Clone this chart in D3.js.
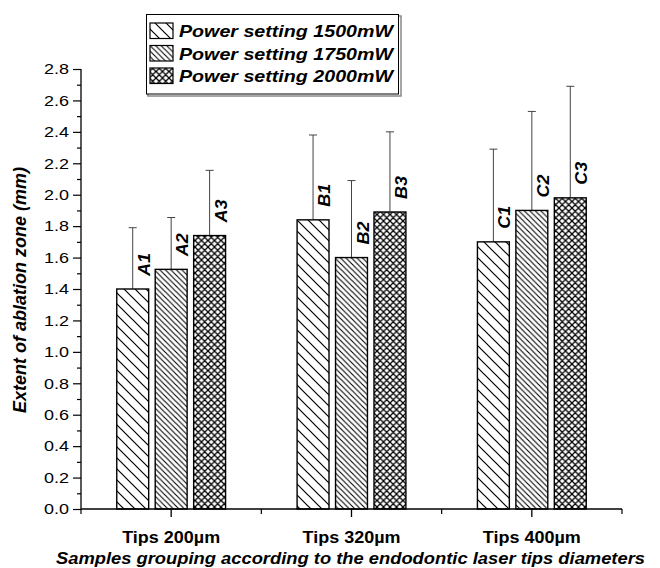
<!DOCTYPE html>
<html>
<head>
<meta charset="utf-8">
<script src="https://cdn.jsdelivr.net/npm/d3@7"></script>
<style>
  body { margin: 0; background: #fff; }
  svg { display: block; font-family: Arial, "Liberation Sans", sans-serif; }
</style>
</head>
<body>
<svg id="chart" width="660" height="568"></svg>
<script>
// ---- data ----
const categories = ["Tips 200µm", "Tips 320µm", "Tips 400µm"];
const seriesNames = ["Power setting 1500mW", "Power setting 1750mW", "Power setting 2000mW"];
const means1500 = [1.40, 1.84, 1.70];
const sd1500    = [0.39, 0.54, 0.59];
const means1750 = [1.525, 1.60, 1.90];
const sd1750    = [0.33, 0.49, 0.63];
const means2000 = [1.74, 1.89, 1.98];
const sd2000    = [0.415, 0.51, 0.71];
const labels1500 = ["A1", "B1", "C1"];
const labels1750 = ["A2", "B2", "C2"];
const labels2000 = ["A3", "B3", "C3"];
const yMajorTicks = [0.0, 0.2, 0.4, 0.6, 0.8, 1.0, 1.2, 1.4, 1.6, 1.8, 2.0, 2.2, 2.4, 2.6, 2.8];
const yMinorTicks = [0.1, 0.3, 0.5, 0.7, 0.9, 1.1, 1.3, 1.5, 1.7, 1.9, 2.1, 2.3, 2.5, 2.7];
const yTitle = "Extent of ablation zone (mm)";
const xTitle = "Samples grouping according to the endodontic laser tips diameters";

const seriesData = [
  { name: seriesNames[0], means: means1500, sds: sd1500, labels: labels1500, pattern: "p1500" },
  { name: seriesNames[1], means: means1750, sds: sd1750, labels: labels1750, pattern: "p1750" },
  { name: seriesNames[2], means: means2000, sds: sd2000, labels: labels2000, pattern: "p2000" }
];

const svg = d3.select("#chart");

// ---- patterns ----
const defs = svg.append("defs");
function diagPattern(id, s, sw) {
  const p = defs.append("pattern").attr("id", id)
    .attr("patternUnits", "userSpaceOnUse").attr("width", s).attr("height", s);
  p.append("rect").attr("width", s).attr("height", s).attr("fill", "#fff");
  p.append("path")
    .attr("d", `M0,0 L${s},${s} M${-s/2},${s/2} L${s/2},${s*1.5} M${s/2},${-s/2} L${s*1.5},${s/2}`)
    .attr("stroke", "#000").attr("stroke-width", sw);
}
diagPattern("p1500", 11, 1.2);
diagPattern("p1750", 5.5, 1.1);
(function () {
  const s = 6.5;
  const p = defs.append("pattern").attr("id", "p2000")
    .attr("patternUnits", "userSpaceOnUse").attr("width", s).attr("height", s);
  p.append("rect").attr("width", s).attr("height", s).attr("fill", "#fff");
  p.append("path")
    .attr("d", `M0,0 L${s},${s} M${-s/2},${s/2} L${s/2},${s*1.5} M${s/2},${-s/2} L${s*1.5},${s/2}` +
               ` M0,${s} L${s},0 M${-s/2},${s/2} L${s/2},${-s/2} M${s/2},${s*1.5} L${s*1.5},${s/2}`)
    .attr("stroke", "#000").attr("stroke-width", 1.3);
})();

// ---- scales ----
const x0 = d3.scaleBand().domain(categories).range([81, 622]).padding(0);
const x1 = d3.scaleBand().domain(seriesNames).range([0, x0.bandwidth()])
  .paddingInner(0.17).paddingOuter(0.93);
const y = d3.scaleLinear().domain([0, 2.8]).range([509, 69]);

// ---- bars ----
const gBars = svg.append("g");
seriesData.forEach(s => {
  categories.forEach((c, i) => {
    const bx = x0(c) + x1(s.name);
    const bw = x1.bandwidth();
    const cx = bx + bw / 2;
    const top = y(s.means[i]);
    const errTop = y(s.means[i] + s.sds[i]);
    // error bar
    gBars.append("line").attr("x1", cx).attr("x2", cx).attr("y1", top).attr("y2", errTop)
      .attr("stroke", "#444").attr("stroke-width", 1);
    gBars.append("line").attr("x1", cx - 4).attr("x2", cx + 4).attr("y1", errTop).attr("y2", errTop)
      .attr("stroke", "#444").attr("stroke-width", 1);
    // bar
    gBars.append("rect").attr("x", bx).attr("y", top)
      .attr("width", bw).attr("height", y(0) - top)
      .attr("fill", `url(#${s.pattern})`).attr("stroke", "#000").attr("stroke-width", 1.4);
    // label
    gBars.append("text")
      .attr("transform", `translate(${cx + 17},${top - 13}) rotate(-90)`)
      .attr("text-anchor", "start")
      .attr("font-size", 16).attr("font-style", "italic").attr("font-weight", "bold")
      .attr("textLength", 23).attr("lengthAdjust", "spacingAndGlyphs")
      .text(s.labels[i]);
  });
});

// ---- y axis ----
const yAxis = svg.append("g").attr("transform", "translate(81,0)")
  .call(d3.axisLeft(y).tickValues(yMajorTicks).tickSize(8).tickPadding(4).tickFormat(d3.format(".1f")));
yAxis.select(".domain").attr("stroke-width", 1.3).attr("d", `M0,${y(2.8)}V${y(0)}`);
yAxis.selectAll(".tick line").attr("stroke-width", 1.2);
yAxis.selectAll(".tick text").attr("font-size", 15).attr("fill", "#000")
  .attr("font-family", "Arial, 'Liberation Sans', sans-serif")
  .attr("textLength", 25).attr("lengthAdjust", "spacingAndGlyphs");
const yMinor = svg.append("g").attr("transform", "translate(81,0)")
  .call(d3.axisLeft(y).tickValues(yMinorTicks).tickSize(4).tickFormat(""));
yMinor.select(".domain").remove();
yMinor.selectAll(".tick line").attr("stroke-width", 1.2);

// ---- x axis ----
const xAxis = svg.append("g").attr("transform", `translate(0,${y(0)})`)
  .call(d3.axisBottom(x0).tickSize(8).tickPadding(14));
xAxis.select(".domain").attr("stroke-width", 1.3).attr("d", `M81,0H622`);
xAxis.selectAll(".tick line").attr("stroke-width", 1.3);
xAxis.selectAll(".tick text").attr("font-size", 17).attr("font-weight", "bold").attr("fill", "#000")
  .attr("font-family", "Arial, 'Liberation Sans', sans-serif")
  .attr("textLength", 98).attr("lengthAdjust", "spacingAndGlyphs");
const bounds = categories.map(c => x0(c)).concat([x0.range()[1]]);
svg.append("g").selectAll("line").data(bounds).join("line")
  .attr("x1", d => d).attr("x2", d => d).attr("y1", y(0)).attr("y2", y(0) + 5)
  .attr("stroke", "#000").attr("stroke-width", 1.2);

// ---- titles ----
svg.append("text")
  .attr("transform", "translate(26,290) rotate(-90)")
  .attr("text-anchor", "middle")
  .attr("font-size", 18).attr("font-style", "italic").attr("font-weight", "bold")
  .attr("textLength", 246).attr("lengthAdjust", "spacingAndGlyphs")
  .text(yTitle);
svg.append("text")
  .attr("x", 56).attr("y", 564)
  .attr("font-size", 17).attr("font-style", "italic").attr("font-weight", "bold")
  .attr("textLength", 589).attr("lengthAdjust", "spacingAndGlyphs")
  .text(xTitle);

// ---- legend ----
const lg = svg.append("g");
lg.append("rect").attr("x", 148).attr("y", 16).attr("width", 253).attr("height", 80)
  .attr("fill", "none").attr("stroke", "#888").attr("stroke-width", 1.5);
lg.append("rect").attr("x", 146.5).attr("y", 14.5).attr("width", 252).attr("height", 79.5)
  .attr("fill", "#fff").attr("stroke", "#000").attr("stroke-width", 1);
seriesData.forEach((s, i) => {
  const ry = 23 + i * 22.5;
  lg.append("rect").attr("x", 150).attr("y", ry).attr("width", 23).attr("height", 15.5)
    .attr("fill", `url(#${s.pattern})`).attr("stroke", "#000").attr("stroke-width", 1.2);
  lg.append("text").attr("x", 179).attr("y", ry + 14)
    .attr("font-size", 17).attr("font-style", "italic").attr("font-weight", "bold")
    .attr("textLength", 214).attr("lengthAdjust", "spacingAndGlyphs")
    .text(s.name);
});
</script>
</body>
</html>
